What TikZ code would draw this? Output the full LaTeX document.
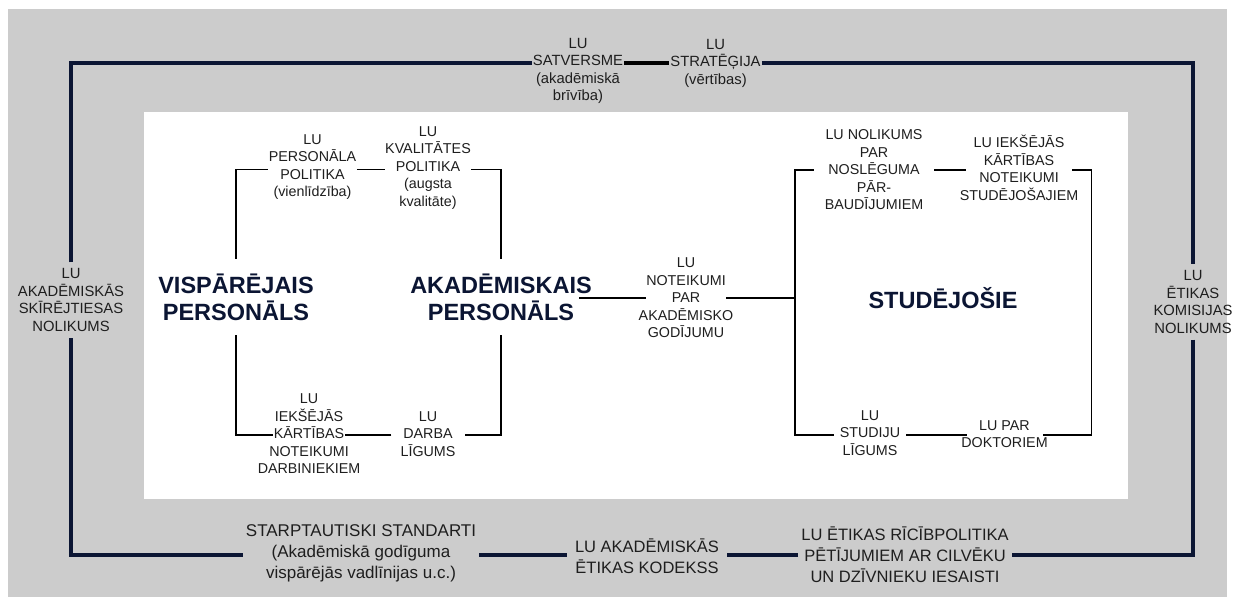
\documentclass[tikz,border=0pt]{standalone}
\usepackage{fontspec}
\setmainfont{Liberation Sans}

\definecolor{bggray}{RGB}{204,204,204}
\definecolor{navy}{RGB}{11,21,51}
\definecolor{txtgray}{RGB}{30,30,30}

\begin{document}
\begin{tikzpicture}[x=1pt,y=-1pt,
	small node/.style={align=center,inner sep=0.5pt,text=txtgray,font=\fontsize{14.3}{17.5}\selectfont},
	side node/.style={align=center,inner xsep=1pt,inner ysep=6pt,text=txtgray,font=\fontsize{14.8}{17.5}\selectfont},
	base node/.style={align=center,inner sep=3pt,text=txtgray,font=\fontsize{16.5}{21}\selectfont},
	group node/.style={align=center,inner xsep=2pt,inner ysep=14.5pt,text=navy,font=\fontsize{23.5}{27}\selectfont\bfseries},
	frame line/.style={line width=3.6pt,draw=navy},
	thin line/.style={line width=1.3pt,draw=black}]
	
	\useasboundingbox (0,0) rectangle (1235,604);
	\fill[white] (0,0) rectangle (1235,604);
	\fill[bggray] (8,9) rectangle (1227,597);
	\fill[white] (144,112) rectangle (1128,499);
	
	% corners
	\coordinate (otl) at (71,63);
	\coordinate (otr) at (1193,63);
	\coordinate (obr) at (1193,555);
	\coordinate (obl) at (71,555);
	\coordinate (a1) at (236,169.5);
	\coordinate (a2) at (501,169.5);
	\coordinate (a3) at (501,435);
	\coordinate (a4) at (236,435);
	\coordinate (b1) at (795,170);
	\coordinate (b2) at (1091.5,170);
	\coordinate (b3) at (1091.5,435);
	\coordinate (b4) at (795,435);
	
	% outer documents
	\node[side node,inner ysep=1pt] (satv) at (578,71) {LU\\SATVERSME\\(akadēmiskā\\brīvība)};
	\node[side node,inner ysep=1pt] (strat) at (715.5,63) {LU\\STRATĒĢIJA\\(vērtības)};
	\node[side node] (skir) at (71,300) {LU\\AKADĒMISKĀS\\SKĪRĒJTIESAS\\NOLIKUMS};
	\node[side node] (etk) at (1193,302) {LU\\ĒTIKAS\\KOMISIJAS\\NOLIKUMS};
	\node[base node,font=\fontsize{17}{21}\selectfont] (intl) at (361,553) {STARPTAUTISKI STANDARTI\\(Akadēmiskā godīguma\\vispārējās vadlīnijas u.c.)};
	\node[base node,inner xsep=8pt] (kod) at (647,556) {LU AKADĒMISKĀS\\ĒTIKAS KODEKSS};
	\node[base node] (rich) at (905,555) {LU ĒTIKAS RĪCĪBPOLITIKA\\PĒTĪJUMIEM AR CILVĒKU\\UN DZĪVNIEKU IESAISTI};
	
	% groups
	\node[group node] (vp) at (236,297) {VISPĀRĒJAIS\\PERSONĀLS};
	\node[group node] (akp) at (501,297) {AKADĒMISKAIS\\PERSONĀLS};
	\node[group node] (stud) at (943,298) {STUDĒJOŠIE};
	
	% inner documents
	\node[small node] (pp) at (312.5,167) {LU\\PERSONĀLA\\POLITIKA\\(vienlīdzība)};
	\node[small node] (kp) at (428,168) {LU\\KVALITĀTES\\POLITIKA\\(augsta\\kvalitāte)};
	\node[small node] (ikn) at (309,434) {LU\\IEKŠĒJĀS\\KĀRTĪBAS\\NOTEIKUMI\\DARBINIEKIEM};
	\node[small node,inner xsep=9pt] (dl) at (428,434) {LU\\DARBA\\LĪGUMS};
	\node[small node] (nt) at (686,298) {LU\\NOTEIKUMI\\PAR\\AKADĒMISKO\\GODĪJUMU};
	\node[small node,inner xsep=11pt] (nos) at (874,170) {LU NOLIKUMS\\PAR\\NOSLĒGUMA\\PĀR-\\BAUDĪJUMIEM};
	\node[small node] (iks) at (1019,168) {LU IEKŠĒJĀS\\KĀRTĪBAS\\NOTEIKUMI\\STUDĒJOŠAJIEM};
	\node[small node,inner xsep=6pt] (stl) at (870,433) {LU\\STUDIJU\\LĪGUMS};
	\node[small node] (pdo) at (1004.5,434) {LU PAR\\DOKTORIEM};
	
	% line ends on the text rows
	\coordinate (iknW) at ([xshift=-36pt]ikn.center);
	\coordinate (iknE) at ([xshift=36pt]ikn.center);
	\coordinate (akpE) at ([xshift=78pt]akp.center);
	\coordinate (ntW) at ([xshift=-40pt]nt.center);
	\coordinate (ntE) at ([xshift=40pt]nt.center);
	\coordinate (iksW) at ([xshift=-53pt]iks.center);
	\coordinate (iksE) at ([xshift=53pt]iks.center);
	\coordinate (pdoW) at ([xshift=-38pt]pdo.center);
	\coordinate (pdoE) at ([xshift=38pt]pdo.center);
	
	% outer frame
	\draw[frame line] (skir.north) -- (otl) -- (otl -| satv.west);
	\draw[frame line,draw=black] (otl -| satv.east) -- (otl -| strat.west);
	\draw[frame line] (otl -| strat.east) -- (otr) -- (etk.north);
	\draw[frame line] (etk.south) -- (obr) -- (obr -| rich.east);
	\draw[frame line] (obr -| rich.west) -- (obr -| kod.east);
	\draw[frame line] (obr -| kod.west) -- (obr -| intl.east);
	\draw[frame line] (obr -| intl.west) -- (obl) -- (skir.south);
	
	% staff
	\draw[thin line] (vp.north) -- (a1) -- (a1 -| pp.west);
	\draw[thin line] (a1 -| pp.east) -- (a1 -| kp.west);
	\draw[thin line] (a1 -| kp.east) -- (a2) -- (akp.north);
	\draw[thin line] (akp.south) -- (a3) -- (a3 -| dl.east);
	\draw[thin line] (a3 -| dl.west) -- (a3 -| iknE);
	\draw[thin line] (a3 -| iknW) -- (a4) -- (vp.south);
	
	% academic integrity
	\draw[thin line] (nt -| akpE) -- (ntW);
	\draw[thin line] (ntE) -- (nt -| b1);
	
	% students
	\draw[thin line] (b1 -| nos.west) -- (b1) -- (b4) -- (b4 -| stl.west);
	\draw[thin line] (b1 -| nos.east) -- (b1 -| iksW);
	\draw[thin line] (b1 -| iksE) -- (b2) -- (b3) -- (b3 -| pdoE);
	\draw[thin line] (b4 -| stl.east) -- (b4 -| pdoW);
\end{tikzpicture}
\end{document}
